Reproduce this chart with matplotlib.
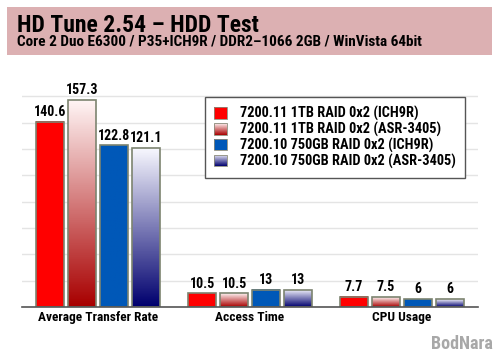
import matplotlib.pyplot as plt
import numpy as np
from matplotlib import font_manager
from matplotlib.colors import LinearSegmentedColormap
from matplotlib.patches import Rectangle
from matplotlib.legend_handler import HandlerBase

# pick a narrow bold face, fall back to DejaVu with smaller sizes
have = {f.name for f in font_manager.fontManager.ttflist}
scale = 0.8
family = ['DejaVu Sans']
for name, sc in [('Roboto Condensed', 1.0), ('Liberation Sans Narrow', 1.0),
                 ('Asap Condensed', 0.95)]:
    if name in have:
        family = [name, 'DejaVu Sans']
        scale = sc
        break
plt.rcParams['font.family'] = family
plt.rcParams['font.weight'] = 'bold'

categories = ['Average Transfer Rate', 'Access Time', 'CPU Usage']
series = ['7200.11 1TB RAID 0x2 (ICH9R)',
          '7200.11 1TB RAID 0x2 (ASR-3405)',
          '7200.10 750GB RAID 0x2 (ICH9R)',
          '7200.10 750GB RAID 0x2 (ASR-3405)']
ich9r_1tb = [140.6, 10.5, 7.7]
asr_1tb = [157.3, 10.5, 7.5]
ich9r_750 = [122.8, 13, 6]
asr_750 = [121.1, 13, 6]
labels = [['140.6', '10.5', '7.7'], ['157.3', '10.5', '7.5'],
          ['122.8', '13', '6'], ['121.1', '13', '6']]
values = [ich9r_1tb, asr_1tb, ich9r_750, asr_750]

# colour at top, colour at bottom for each series
fills = [('#ff0000', '#ff0000'), ('#fff4f4', '#a80000'),
         ('#0058b8', '#0058b8'), ('#f8f8ff', '#00006e')]


class Grad:
    def __init__(self, top, bottom):
        self.cmap = LinearSegmentedColormap.from_list('g', [bottom, top])


class GradHandler(HandlerBase):
    def create_artists(self, legend, orig_handle, xd, yd, w, h, fontsize, trans):
        n = 12
        arts = []
        for k in range(n):
            c = orig_handle.cmap(1 - (k + 0.5) / n)
            arts.append(Rectangle((-xd, -yd + h - (k + 1) * h / n), w, h / n + 0.05,
                                  facecolor=c, edgecolor='none', transform=trans))
        arts.append(Rectangle((-xd, -yd), w, h, facecolor='none',
                              edgecolor='#8a8a7a', linewidth=0.6, transform=trans))
        return arts


fig = plt.figure(figsize=(5, 3.57), dpi=100)
fig.patches.append(Rectangle((7 / 500, 1 - 55 / 357), 485 / 500, 48 / 357,
                             transform=fig.transFigure, facecolor='#dcb0b2',
                             edgecolor='none', zorder=0))
fig.text(17 / 500, 1 - 32 / 357, 'HD Tune 2.54 \u2013 HDD Test', fontsize=17 * scale,
         va='baseline', ha='left')
fig.text(17 / 500, 1 - 46 / 357,
         'Core 2 Duo E6300 / P35+ICH9R / DDR2\u20131066 2GB / WinVista 64bit',
         fontsize=11 * scale, va='baseline', ha='left')
fig.text(493 / 500, 1 - 349 / 357, 'BodNara', fontsize=13 * scale, color='#a8a8a8',
         va='baseline', ha='right')

ax = fig.add_axes([22 / 500, 50 / 357, 456 / 500, 223.7 / 357])
x = np.arange(len(categories))
width = 0.184
step = 0.21
handles = []
for j, vals in enumerate(values):
    top, bottom = fills[j]
    g = Grad(top, bottom)
    handles.append(g)
    for i, v in enumerate(vals):
        x0 = x[i] + (j - 1.5) * step - width / 2
        grad = np.linspace(1, 0, 100).reshape(-1, 1)
        ax.imshow(grad, cmap=g.cmap, extent=(x0, x0 + width, 0, v),
                  aspect='auto', zorder=2, vmin=0, vmax=1)
        ax.add_patch(Rectangle((x0, 0), width, v, facecolor='none',
                               edgecolor='#7d8470', linewidth=1.2, zorder=3))
        ax.text(x0 + width / 2, v + 2, labels[j][i], ha='center', va='bottom',
                fontsize=10 * scale)

ax.set_xlim(-0.5, 2.5)
ax.set_ylim(0, 170)
ax.set_yticks(np.arange(0, 161, 20))
ax.set_yticklabels([])
ax.set_xticks(x)
ax.set_xticklabels(categories, fontsize=9.6 * scale)
ax.tick_params(length=0, pad=3)
ax.grid(axis='y', color='#e4e4e4', linewidth=1)
ax.set_axisbelow(True)
for s in ['left', 'right', 'top']:
    ax.spines[s].set_visible(False)
ax.spines['bottom'].set_color('#555555')
ax.spines['bottom'].set_linewidth(1.2)
ax.spines['bottom'].set_zorder(4)

leg = ax.legend(handles, series, handler_map={Grad: GradHandler()},
                loc='upper left', bbox_to_anchor=(205 / 500, 1 - 97 / 357),
                bbox_transform=fig.transFigure, borderaxespad=0,
                fancybox=False, prop={'size': 10.4 * scale, 'weight': 'bold'},
                labelspacing=0.05, handlelength=0.9, handleheight=0.85,
                handletextpad=0.85, borderpad=0.65, framealpha=1)
leg.get_frame().set_edgecolor('#555555')
leg.get_frame().set_linewidth(1.0)

fig.savefig('out.png', dpi=100)
